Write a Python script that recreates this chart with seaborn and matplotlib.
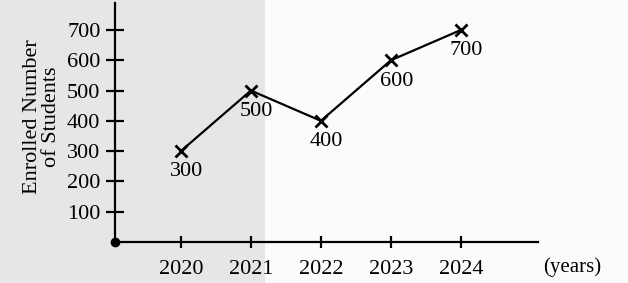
import matplotlib.pyplot as plt
import matplotlib.patches as mpatches
import pandas as pd
import seaborn as sns

years = [2020, 2021, 2022, 2023, 2024]
students = [300, 500, 400, 600, 700]
y_ticks = [100, 200, 300, 400, 500, 600, 700]

sns.set_style("white")
plt.rcParams['font.family'] = ['Liberation Serif', 'DejaVu Serif']
plt.rcParams['text.color'] = 'black'
plt.rcParams['xtick.color'] = 'black'
plt.rcParams['ytick.color'] = 'black'

df = pd.DataFrame({'year': years, 'students': students})

fig = plt.figure(figsize=(6.28, 2.83), dpi=100)
fig.patch.set_facecolor('#fbfbfb')
# grey scan band on the left
fig.patches.append(mpatches.Rectangle((0, 0), 265 / 628, 1, transform=fig.transFigure,
                                      facecolor='#e6e6e6', edgecolor='none', zorder=-10))

ax = fig.add_axes([115 / 628, 41 / 283, 423 / 628, 239 / 283])
ax.patch.set_alpha(0)

sns.lineplot(data=df, x='year', y='students', ax=ax, color='black', linewidth=1.6,
             marker='x', markersize=8, markeredgewidth=2, markeredgecolor='black')

for yr, val in zip(years, students):
    ax.annotate(str(val), (yr, val), xytext=(4, -15), textcoords='offset points',
                ha='center', va='center', fontsize=16)

ax.set_xlim(2019.06, 2025.1)
ax.set_ylim(0, 789)
ax.set_xticks(years)
ax.set_yticks(y_ticks)
ax.tick_params(axis='y', left=True, direction='inout', length=13, width=1.6,
               labelsize=16, pad=4)
ax.tick_params(axis='x', bottom=True, direction='inout', length=8, width=1.6,
               labelsize=16, pad=9)
for side in ['top', 'right']:
    ax.spines[side].set_visible(False)
for side in ['left', 'bottom']:
    ax.spines[side].set_linewidth(1.6)
    ax.spines[side].set_color('black')
ax.set_xlabel('')
ax.set_ylabel('')
ax.plot([2019.06], [0], 'o', color='black', markersize=6, clip_on=False)

fig.text(42 / 628, 1 - 117 / 283, 'Enrolled Number\nof Students', rotation=90,
         ha='center', va='center', multialignment='center', fontsize=16, linespacing=1.05)
fig.text(572 / 628, 1 - 267 / 283, '(years)', ha='center', va='center', fontsize=15)

fig.savefig('out.png', dpi=100)
